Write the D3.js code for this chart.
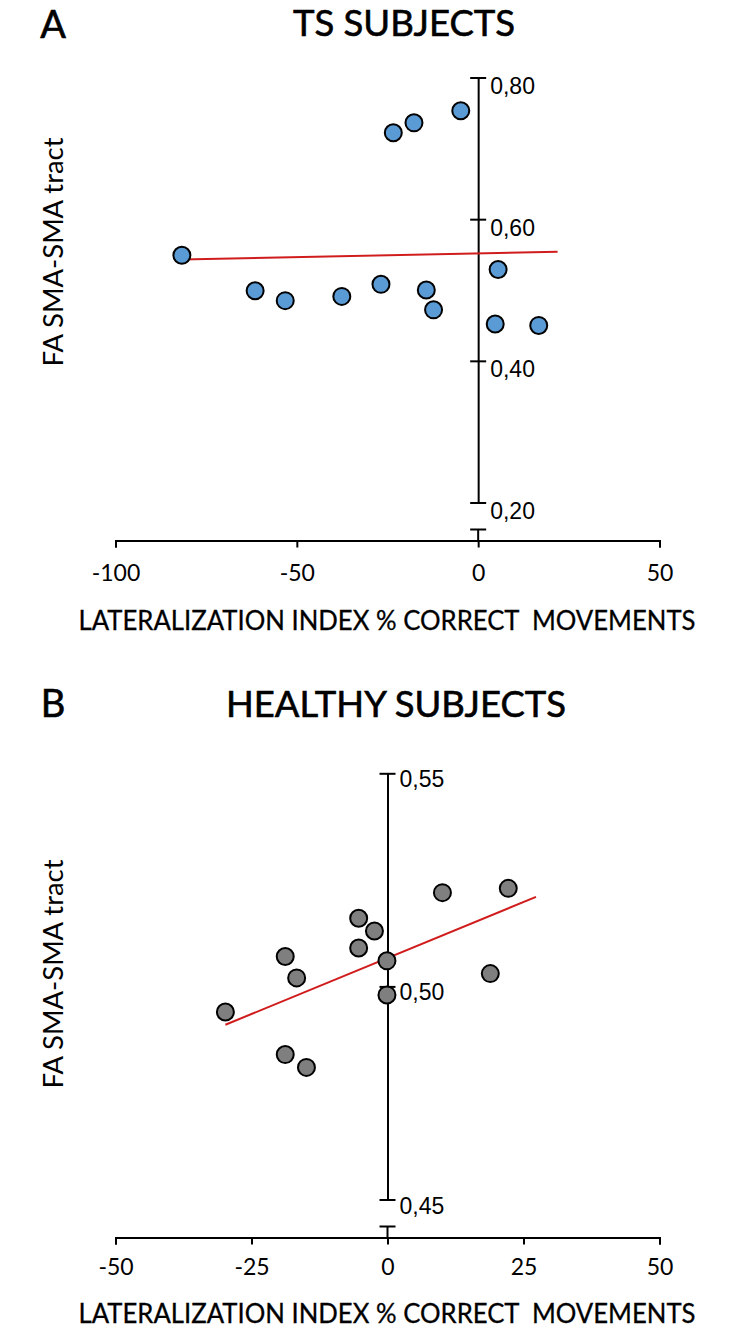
<!DOCTYPE html>
<html>
<head>
<meta charset="utf-8">
<script src="https://cdn.jsdelivr.net/npm/d3@7"></script>
<style>
  body { margin: 0; background: #fff; }
  svg { display: block; }
</style>
</head>
<body>
<svg id="chart" width="741" height="1333"></svg>
<script>
// panel A - TS subjects
const tsLI = [-81.7, -61.5, -53.2, -37.6, -26.8, -14.3, -12.3, -23.4, -17.7, -4.8, 5.5, 4.7, 16.7];
const tsFA = [0.549, 0.499, 0.485, 0.491, 0.508, 0.500, 0.472, 0.722, 0.736, 0.753, 0.529, 0.452, 0.450];
const tsFitLI = [-81.7, 21.9];
const tsFitFA = [0.543, 0.554];
const tsXTicks = [-100, -50, 0, 50];
const tsYTicks = [0.2, 0.4, 0.6, 0.8];

// panel B - healthy subjects
const hsLI = [-29.8, -18.8, -16.7, -18.8, -14.9, -5.3, -5.3, -2.4, -0.1, -0.1, 10.1, 22.2, 18.9];
const hsFA = [0.494, 0.507, 0.502, 0.484, 0.481, 0.516, 0.509, 0.513, 0.506, 0.498, 0.522, 0.523, 0.503];
const hsFitLI = [-29.8, 27.3];
const hsFitFA = [0.491, 0.521];
const hsXTicks = [-50, -25, 0, 25, 50];
const hsYTicks = [0.45, 0.50, 0.55];

const xTitle = "LATERALIZATION INDEX % CORRECT  MOVEMENTS";
const yTitle = "FA SMA-SMA tract";

// comma decimals like the original
const locale = d3.formatLocale({decimal: ",", thousands: ".", grouping: [3], currency: ["", ""]});
const fmt2 = locale.format(".2f");

const svg = d3.select("#chart");

function drawPanel(p) {
  const g = svg.append("g");

  const x = d3.scaleLinear().domain(p.xDomain).range([115.5, 659.5]);
  const y = d3.scaleLinear().domain(p.yDomain).range(p.yRange);
  const axisY = p.yRange[0] + 38;   // x axis sits below the broken y axis
  const x0 = x(0);

  // letter + title
  g.append("text")
    .attr("x", 53).attr("y", p.letterBase)
    .attr("text-anchor", "middle")
    .style("font-family", "Lato, sans-serif").style("font-size", "38px")
    .attr("stroke", "#000").attr("stroke-width", 0.6)
    .text(p.letter);
  g.append("text")
    .attr("x", p.titleX).attr("y", p.titleBase)
    .attr("text-anchor", "middle")
    .attr("textLength", p.titleLen).attr("lengthAdjust", "spacingAndGlyphs")
    .style("font-family", "Lato, sans-serif").style("font-size", "36px")
    .attr("stroke", "#000").attr("stroke-width", 0.6)
    .text(p.title);

  // x axis
  const xa = g.append("g")
    .attr("transform", `translate(0,${axisY})`)
    .call(d3.axisBottom(x).tickValues(p.xTicks).tickSize(7).tickPadding(p.xPad).tickFormat(d => String(d)));
  xa.selectAll("path, line").attr("stroke", "#000").attr("stroke-width", 2);
  xa.selectAll("text")
    .style("font-family", "Lato, sans-serif").style("font-size", "23px").attr("fill", "#000");

  g.append("text")
    .attr("x", 387).attr("y", axisY + p.xTitleOff)
    .attr("text-anchor", "middle").attr("dominant-baseline", "central")
    .attr("textLength", 617).attr("lengthAdjust", "spacingAndGlyphs")
    .style("font-family", "Lato, sans-serif").style("font-size", "26px")
    .style("white-space", "pre")
    .attr("stroke", "#000").attr("stroke-width", 0.3)
    .text(xTitle);

  // y axis (broken near the bottom)
  const ya = g.append("g")
    .attr("transform", `translate(${x0},0)`)
    .call(d3.axisRight(y).tickValues(p.yTicks).tickSize(0).tickPadding(12).tickFormat(fmt2));
  ya.select(".domain").attr("stroke", "#000").attr("stroke-width", 2);
  ya.selectAll("text")
    .attr("dy", p.labelDy)
    .style("font-family", "'Liberation Sans', Arial, sans-serif").style("font-size", "23px").attr("fill", "#000");
  ya.selectAll(".tick").append("line")
    .attr("x1", -8).attr("x2", 8)
    .attr("stroke", "#000").attr("stroke-width", 2);

  // stub below the break
  g.append("line")
    .attr("x1", x0).attr("x2", x0).attr("y1", axisY - 11).attr("y2", axisY)
    .attr("stroke", "#000").attr("stroke-width", 2);
  g.append("line")
    .attr("x1", x0 - 8).attr("x2", x0 + 8).attr("y1", axisY - 11).attr("y2", axisY - 11)
    .attr("stroke", "#000").attr("stroke-width", 2);

  // y title
  g.append("text")
    .attr("transform", `translate(53,${p.yTitleY}) rotate(-90)`)
    .attr("text-anchor", "middle").attr("dominant-baseline", "central")
    .attr("textLength", 229).attr("lengthAdjust", "spacingAndGlyphs")
    .style("font-family", "Lato, sans-serif").style("font-size", "26px")
    .text(yTitle);

  // regression line
  g.append("line")
    .attr("x1", x(p.fitX[0])).attr("y1", y(p.fitY[0]))
    .attr("x2", x(p.fitX[1])).attr("y2", y(p.fitY[1]))
    .attr("stroke", "#d01c1c").attr("stroke-width", 2);

  // points
  g.selectAll("circle.pt")
    .data(d3.range(p.xs.length))
    .join("circle")
    .attr("class", "pt")
    .attr("cx", i => x(p.xs[i]))
    .attr("cy", i => y(p.ys[i]))
    .attr("r", 8.5)
    .attr("fill", p.fill)
    .attr("stroke", "#000").attr("stroke-width", 2);
}

drawPanel({
  letter: "A", title: "TS SUBJECTS", titleX: 404, titleBase: 36, letterBase: 38, titleLen: 222,
  xDomain: [-100, 50], yDomain: [0.2, 0.8], yRange: [502.5, 77.5],
  xTicks: tsXTicks, yTicks: tsYTicks, labelDy: 16, yTitleY: 252,
  xPad: 17, xTitleOff: 79,
  xs: tsLI, ys: tsFA, fitX: tsFitLI, fitY: tsFitFA, fill: "#5b9bd5"
});

drawPanel({
  letter: "B", title: "HEALTHY SUBJECTS", titleX: 396, titleBase: 717, letterBase: 717, titleLen: 340,
  xDomain: [-50, 50], yDomain: [0.45, 0.55], yRange: [1199.5, 773.3],
  xTicks: hsXTicks, yTicks: hsYTicks, labelDy: 13.5, yTitleY: 974,
  xPad: 14, xTitleOff: 75,
  xs: hsLI, ys: hsFA, fitX: hsFitLI, fitY: hsFitFA, fill: "#7f7f7f"
});
</script>
</body>
</html>
